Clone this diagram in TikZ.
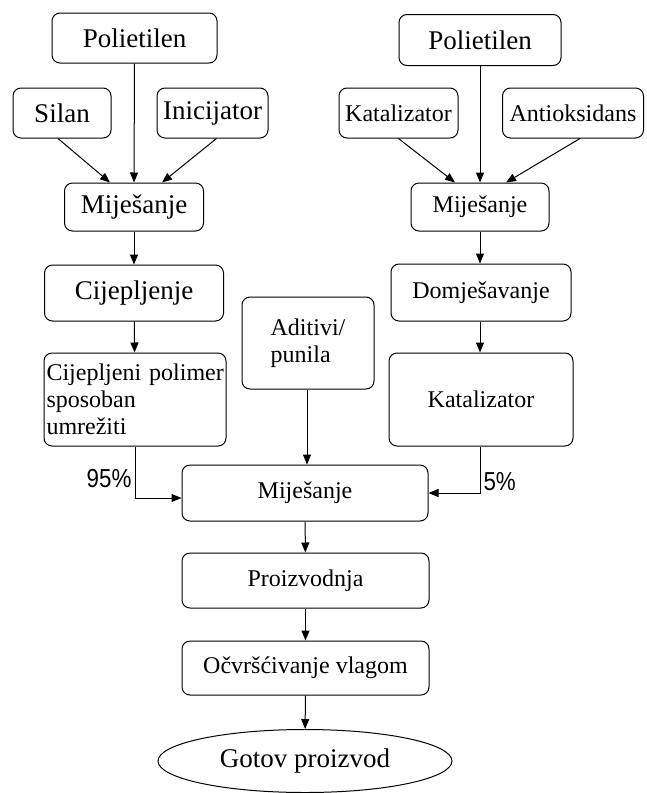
\documentclass[tikz,border=0pt]{standalone}
\usepackage{fontspec}
\setmainfont{Liberation Serif}
\newfontfamily\pctfont[FakeStretch=0.86]{Liberation Sans}
\usepackage{tikz}
\usetikzlibrary{arrows.meta, positioning, calc, shapes.geometric}

\begin{document}
\begin{tikzpicture}[x=1pt, y=-1pt,
    box/.style={draw, rectangle, rounded corners=8pt, line width=1pt, inner sep=2pt},
    big/.style={font=\fontsize{27}{30}\selectfont},
    small/.style={font=\fontsize{24}{27}\selectfont},
    arr/.style={-{Triangle[length=10pt, width=8pt]}, line width=1pt},
    pct/.style={font=\pctfont\fontsize{26}{26}\selectfont, inner sep=3pt}]
    \useasboundingbox (0,0) rectangle (646,793);

    % left column
    \node (pol1) [box, big, minimum width=165pt, minimum height=50pt] at (134.5,38) {Polietilen};
    \node (silan) [box, big, minimum width=98pt, minimum height=50pt] at (62,113) {Silan};
    \node (inic) [box, big, minimum width=111pt, minimum height=50pt] at (212.5,113) {Inicijator};
    \node (mixL) [box, big, minimum width=139pt, minimum height=48pt] at (134,207) {Miješanje};
    \node (cij) [box, big, minimum width=179pt, minimum height=56pt] at (134,293) {Cijepljenje};
    \node (cpol) [box, small, align=left, text width=181pt, inner xsep=0.5pt, minimum height=93pt] at (135,399.5)
        {\hspace*{2pt}Cijepljeni polimer\\ \hspace*{2pt}sposoban\\ \hspace*{2pt}umrežiti};

    % right column
    \node (pol2) [box, big, minimum width=162pt, minimum height=51pt] at (480,40) {Polietilen};
    \node (kat1) [box, small, minimum width=119pt, minimum height=50pt] at (398.5,113) {Katalizator};
    \node (antiox) [box, small, minimum width=141pt, minimum height=50pt] at (573,113) {Antioksidans};
    \node (mixR) [box, small, minimum width=138pt, minimum height=48pt] at (480,207) {Miješanje};
    \node (domj) [box, small, minimum width=180pt, minimum height=57pt] at (481,292.5) {Domješavanje};
    \node (kat2) [box, small, minimum width=184pt, minimum height=93pt] at (481,399.5) {Katalizator};

    % middle
    \node (adit) [box, small, align=left, minimum width=132pt, minimum height=92pt] at (308,343) {Aditivi/\\ punila};
    \node (mix) [box, small, minimum width=246pt, minimum height=56pt] at (305,493) {Miješanje};
    \node (proiz) [box, small, minimum width=247pt, minimum height=55pt] at (305.5,580.5) {Proizvodnja};
    \node (ocvr) [box, small, minimum width=247pt, minimum height=54pt] at (305.5,668) {Očvršćivanje vlagom};
    \node (gotov) [draw, ellipse, big, line width=1pt, inner sep=0pt, minimum width=294pt, minimum height=63pt] at (305,761) {Gotov proizvod};

    \draw[arr] (pol1.south) -- (mixL.north);
    \draw[arr] ([xshift=-4pt]silan.south) -- ([xshift=-24pt]mixL.north);
    \draw[arr] ([xshift=4pt]inic.south) -- ([xshift=28pt]mixL.north);
    \draw[arr] (mixL) -- (cij);
    \draw[arr] (cij) -- (cpol);

    \draw[arr] (kat1.south) -- ([xshift=-25pt]mixR.north);
    \draw[arr] (pol2.south) -- (mixR.north);
    \draw[arr] ([xshift=7pt]antiox.south) -- ([xshift=26pt]mixR.north);
    \draw[arr] (mixR) -- (domj.north -| mixR);
    \draw[arr] (domj.south -| mixR) -- (kat2.north -| mixR);

    \draw[arr] (adit.south -| mix.north) ++(2pt,0) -- ([xshift=2pt]mix.north);
    \draw[arr] (cpol.south) |- ([yshift=-5pt]mix.west) node[pct, left, pos=0.31] {95\%};
    \draw[arr] (kat2.south -| mixR) |- (mix.east) node[pct, right, pos=0.38] {5\%};

    \draw[arr] (mix) -- (proiz);
    \draw[arr] (proiz) -- (ocvr);
    \draw[arr] (ocvr) -- (gotov);
\end{tikzpicture}
\end{document}
